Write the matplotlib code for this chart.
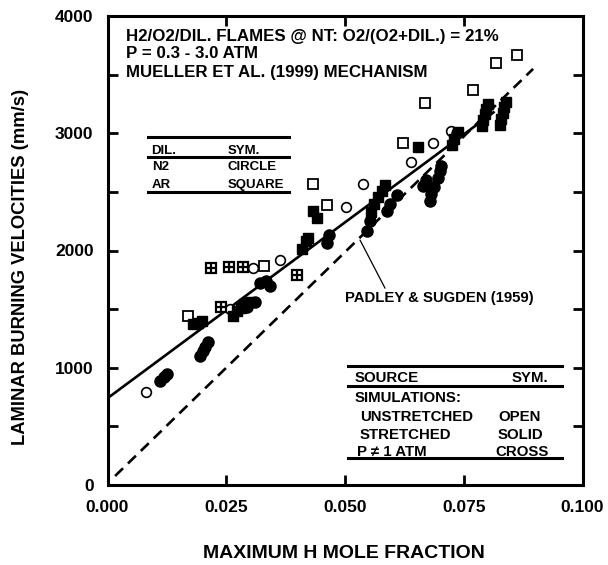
import matplotlib
matplotlib.use('Agg')
import matplotlib.pyplot as plt
from matplotlib.ticker import MultipleLocator

plt.rcParams['font.family'] = ['Liberation Sans', 'DejaVu Sans']
plt.rcParams['font.weight'] = 'bold'

# Unstretched simulations (open symbols)
open_circle_x = [0.0080, 0.0258, 0.0306, 0.0363, 0.0502, 0.0538, 0.0639, 0.0685, 0.0723]
open_circle_y = [790, 1505, 1855, 1920, 2375, 2570, 2755, 2920, 3015]
open_square_x = [0.0169, 0.0330, 0.0433, 0.0462, 0.0622, 0.0668, 0.0769, 0.0818, 0.0862]
open_square_y = [1440, 1870, 2570, 2390, 2920, 3260, 3370, 3600, 3670]

# P != 1 atm (crossed squares)
cross_square_x = [0.0218, 0.0239, 0.0256, 0.0285, 0.0399]
cross_square_y = [1850, 1515, 1860, 1860, 1795]

# Stretched simulations (solid symbols)
solid_circle_x = [0.0110, 0.0118, 0.0125, 0.0195, 0.0200, 0.0205, 0.0212,
                  0.0294, 0.0310, 0.0321, 0.0333, 0.0342, 0.0462, 0.0466,
                  0.0546, 0.0553, 0.0588, 0.0595, 0.0610,
                  0.0665, 0.0670, 0.0678, 0.0682, 0.0688, 0.0695, 0.0700, 0.0703, 0.0735]
solid_circle_y = [890, 920, 950, 1100, 1140, 1180, 1220,
                  1515, 1557, 1720, 1740, 1700, 2060, 2128,
                  2170, 2255, 2340, 2400, 2470,
                  2550, 2600, 2420, 2480, 2540, 2620, 2680, 2720, 3000]
solid_square_x = [0.0180, 0.0190, 0.0198,
                  0.0265, 0.0272, 0.0280, 0.0288, 0.0295,
                  0.0410, 0.0418, 0.0422, 0.0433, 0.0440,
                  0.0555, 0.0562, 0.0570, 0.0578, 0.0585, 0.0654,
                  0.0725, 0.0730, 0.0737,
                  0.0788, 0.0791, 0.0794, 0.0797, 0.0800,
                  0.0826, 0.0829, 0.0832, 0.0835, 0.0838]
solid_square_y = [1370, 1385, 1395,
                  1440, 1480, 1510, 1540, 1560,
                  2017, 2085, 2110, 2340, 2280,
                  2330, 2400, 2460, 2510, 2560, 2880,
                  2900, 2950, 3010,
                  3060, 3110, 3160, 3210, 3250,
                  3070, 3120, 3170, 3220, 3270]

# Correlation lines
fit_x = [0.0, 0.0815]
fit_y = [740, 3185]
padley_x = [0.0016, 0.0896]
padley_y = [77, 3549]

x_ticks = [0.0, 0.025, 0.05, 0.075, 0.1]
x_ticklabels = ['0.000', '0.025', '0.050', '0.075', '0.100']
y_ticks = [0, 1000, 2000, 3000, 4000]
y_ticklabels = ['0', '1000', '2000', '3000', '4000']

fig = plt.figure(figsize=(6.08, 5.65), dpi=100)
ax = fig.add_axes([107.5 / 608, 1 - 485 / 565, 475 / 608, 469 / 565])
ax.set_xlim(0, 0.1)
ax.set_ylim(0, 4000)

ax.plot(fit_x, fit_y, color='black', lw=1.9, solid_capstyle='butt')
ax.plot(padley_x, padley_y, color='black', lw=1.9, dashes=(4.2, 2.6))

ax.plot(open_circle_x, open_circle_y, 'o', ms=7, mfc='white', mec='black', mew=1.2)
ax.plot(open_square_x, open_square_y, 's', ms=7, mfc='white', mec='black', mew=1.3)
ax.plot(cross_square_x, cross_square_y, 's', ms=7, mfc='white', mec='black', mew=1.6)
ax.plot(cross_square_x, cross_square_y, '+', ms=7, mec='black', mew=1.6)
ax.plot(solid_circle_x, solid_circle_y, 'o', ms=8, color='black')
ax.plot(solid_square_x, solid_square_y, 's', ms=7.5, color='black')

for side in ax.spines.values():
    side.set_linewidth(2.2)

ax.set_xticks(x_ticks)
ax.set_xticklabels(x_ticklabels, fontweight='bold')
ax.set_yticks(y_ticks)
ax.set_yticklabels(y_ticklabels, fontweight='bold')
ax.yaxis.set_minor_locator(MultipleLocator(500))
ax.tick_params(which='both', direction='in', top=True, right=True,
               length=7, width=2, labelsize=12.5)
ax.tick_params(axis='x', pad=11)
ax.tick_params(axis='y', pad=10)

fig.text(344 / 608, 1 - 553 / 565, 'MAXIMUM H MOLE FRACTION', ha='center', va='center',
         fontsize=14, fontweight='bold')
fig.text(21 / 608, 1 - 267 / 565, 'LAMINAR BURNING VELOCITIES (mm/s)', ha='center',
         va='center', rotation=90, fontsize=13.2, fontweight='bold')


def px(x, y):
    """pixel position inside the plot frame -> axes fraction"""
    return ((x - 107.5) / 475, (485 - y) / 469)


hdr = ['H2/O2/DIL. FLAMES @ NT: O2/(O2+DIL.) = 21%',
       'P = 0.3 - 3.0 ATM',
       'MUELLER ET AL. (1999) MECHANISM']
for txt, yy in zip(hdr, [36, 54, 72]):
    ax.text(*px(126, yy), txt, transform=ax.transAxes, fontsize=12.2,
            fontweight='bold', va='center', ha='left')


def hline(x0, x1, y, lw=2.2):
    a = px(x0, y)
    b = px(x1, y)
    ax.plot([a[0], b[0]], [a[1], b[1]], color='black', lw=lw,
            transform=ax.transAxes, clip_on=False)


# diluent key
hline(148, 289, 137)
hline(148, 289, 157)
hline(148, 289, 192)
for txt, x, y in [('DIL.', 151, 151), ('N2', 152, 167), ('AR', 152, 185),
                  ('SYM.', 228, 151), ('CIRCLE', 228, 167), ('SQUARE', 228, 185)]:
    ax.text(*px(x, y), txt, transform=ax.transAxes, fontsize=9.5,
            fontweight='bold', va='center', ha='left')

# source key
hline(348, 562, 366)
hline(348, 562, 386)
hline(348, 562, 458)
for txt, x, y in [('SOURCE', 355, 378), ('SIMULATIONS:', 355, 398),
                  ('UNSTRETCHED', 360, 417), ('STRETCHED', 360, 435),
                  ('P \u2260 1 ATM', 357, 452),
                  ('OPEN', 498, 417), ('SOLID', 498, 435), ('CROSS', 495, 452)]:
    ax.text(*px(x, y), txt, transform=ax.transAxes, fontsize=10.8,
            fontweight='bold', va='center', ha='left')
ax.text(*px(548, 378), 'SYM.', transform=ax.transAxes, fontsize=10.8,
        fontweight='bold', va='center', ha='right')

# label for the dashed correlation
ax.annotate('PADLEY & SUGDEN (1959)', xy=px(360, 240), xycoords='axes fraction',
            xytext=px(345, 298), textcoords='axes fraction', fontsize=10.7,
            fontweight='bold', va='center', ha='left',
            arrowprops=dict(arrowstyle='-', color='black', lw=0.9,
                            shrinkA=0, shrinkB=0, relpos=(0.22, 1.0)))

fig.savefig('out.png', dpi=100, facecolor='white')
